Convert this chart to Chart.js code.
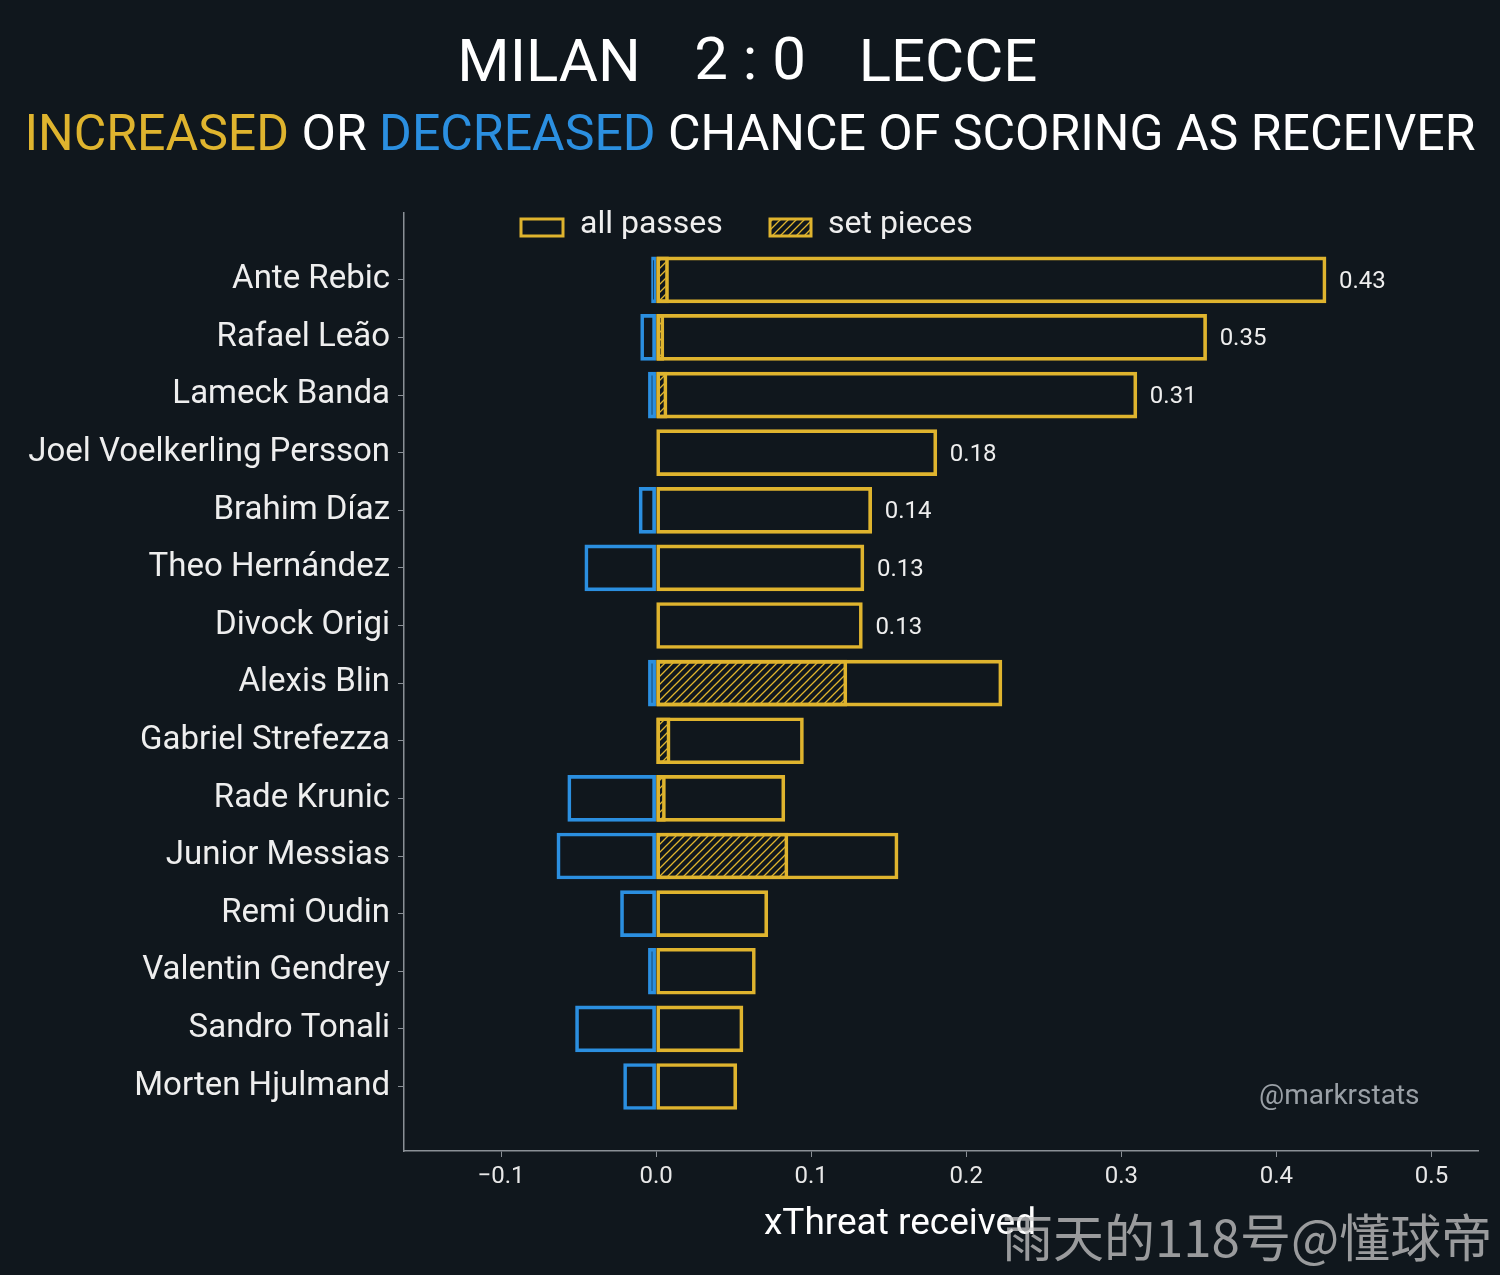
<!DOCTYPE html>
<html>
<head>
<meta charset="utf-8">
<script src="https://cdn.jsdelivr.net/npm/chart.js@4/dist/chart.umd.min.js"></script>
<style>
  html, body { margin: 0; padding: 0; background: #10171d; }
</style>
</head>
<body>
<canvas id="myChart" width="1500" height="1275"></canvas>
<script>
const players = [
  'Ante Rebic', 'Rafael Leão', 'Lameck Banda', 'Joel Voelkerling Persson', 'Brahim Díaz',
  'Theo Hernández', 'Divock Origi', 'Alexis Blin', 'Gabriel Strefezza', 'Rade Krunic',
  'Junior Messias', 'Remi Oudin', 'Valentin Gendrey', 'Sandro Tonali', 'Morten Hjulmand'
];
const allPasses = [0.432, 0.355, 0.310, 0.181, 0.139, 0.134, 0.133, 0.223, 0.095, 0.083, 0.156, 0.072, 0.064, 0.056, 0.052];
const setPieces = [0.008, 0.005, 0.007, 0, 0, 0, 0, 0.123, 0.009, 0.006, 0.085, 0, 0, 0, 0];
const decreased = [-0.003, -0.010, -0.005, 0, -0.011, -0.046, 0, -0.005, 0, -0.057, -0.064, -0.023, -0.005, -0.052, -0.021];
const valueLabels = ['0.43', '0.35', '0.31', '0.18', '0.14', '0.13', '0.13', '', '', '', '', '', '', '', ''];
const xTicks = [-0.1, 0, 0.1, 0.2, 0.3, 0.4, 0.5];

const gold = '#dfb42e';
const blue = '#2b8fe0';
const bg = '#10171d';
const font = 'Roboto, "Noto Sans", sans-serif';

function hatch() {
  const c = document.createElement('canvas');
  c.width = 8; c.height = 8;
  const g = c.getContext('2d');
  g.strokeStyle = gold; g.lineWidth = 1.3;
  g.beginPath();
  g.moveTo(0, 8); g.lineTo(8, 0);
  g.moveTo(-2, 2); g.lineTo(2, -2);
  g.moveTo(6, 10); g.lineTo(10, 6);
  g.stroke();
  return g.createPattern(c, 'repeat');
}
const hatchPattern = hatch();

const decor = {
  id: 'decor',
  beforeDraw(chart) {
    const ctx = chart.ctx;
    ctx.save();
    ctx.fillStyle = bg;
    ctx.fillRect(0, 0, chart.width, chart.height);
    ctx.restore();
  },
  afterDraw(chart) {
    const ctx = chart.ctx;
    ctx.save();
    ctx.textBaseline = 'middle';
    // title
    ctx.font = '60px ' + font;
    ctx.fillStyle = '#ffffff';
    ctx.textAlign = 'center';
    ctx.fillText('MILAN', 549, 66);
    ctx.fillText('2 : 0', 750, 64);
    ctx.fillText('LECCE', 948, 66);
    // x axis title
    ctx.font = '37px ' + font;
    ctx.fillText('xThreat received', 900, 1225);
    // subtitle
    ctx.font = '50px ' + font;
    ctx.textAlign = 'left';
    const parts = [['INCREASED', gold], [' OR ', '#ffffff'], ['DECREASED', blue], [' CHANCE OF SCORING AS RECEIVER', '#ffffff']];
    let total = parts.reduce((s, p) => s + ctx.measureText(p[0]).width, 0);
    let x = 750 - total / 2;
    parts.forEach(p => { ctx.fillStyle = p[1]; ctx.fillText(p[0], x, 137); x += ctx.measureText(p[0]).width; });
    // legend
    ctx.lineWidth = 3;
    ctx.strokeStyle = gold;
    ctx.strokeRect(521, 219, 42, 17);
    ctx.fillStyle = hatchPattern;
    ctx.fillRect(770, 219, 41, 17);
    ctx.strokeRect(770, 219, 41, 17);
    ctx.font = '32px ' + font;
    ctx.fillStyle = '#eeeeee';
    ctx.fillText('all passes', 580, 225);
    ctx.fillText('set pieces', 828, 225);
    // value labels
    const meta = chart.getDatasetMeta(2);
    ctx.font = '24px ' + font;
    meta.data.forEach((bar, i) => {
      if (valueLabels[i]) ctx.fillText(valueLabels[i], bar.x + 13, bar.y + 2);
    });
    // credits
    ctx.fillStyle = '#9aa0a6';
    ctx.font = '28px ' + font;
    ctx.fillText('@markrstats', 1259, 1097);
    ctx.fillStyle = 'rgba(200,200,200,0.75)';
    ctx.font = '51px "Noto Sans CJK SC", sans-serif';
    ctx.fillText('雨天的118号@懂球帝', 1002, 1238);
    ctx.restore();
  }
};

new Chart(document.getElementById('myChart'), {
  type: 'bar',
  data: {
    datasets: [
      { label: 'decreased', data: decreased.map((v, i) => ({ x: [v, 0], y: i })), backgroundColor: 'transparent', borderColor: blue, borderWidth: 3, borderSkipped: false },
      { label: 'set pieces', data: setPieces.map((v, i) => ({ x: [0, v], y: i })), backgroundColor: hatchPattern, borderColor: gold, borderWidth: 3, borderSkipped: false },
      { label: 'all passes', data: allPasses.map((v, i) => ({ x: [0, v], y: i })), backgroundColor: 'transparent', borderColor: gold, borderWidth: 3, borderSkipped: false }
    ]
  },
  options: {
    indexAxis: 'y',
    responsive: false,
    animation: false,
    devicePixelRatio: 1,
    layout: { padding: { top: 213, right: 22, left: 0, bottom: 20 } },
    datasets: { bar: { grouped: false, barThickness: 46 } },
    plugins: { legend: { display: false }, tooltip: { enabled: false } },
    scales: {
      x: {
        type: 'linear',
        min: -0.1626, max: 0.53,
        afterBuildTicks: s => { s.ticks = xTicks.map(v => ({ value: v })); },
        afterFit: s => { s.height = 104; },
        grid: { drawOnChartArea: false, color: '#8a9096', tickLength: 6, tickColor: '#8a9096' },
        border: { color: '#8a9096', width: 1.5 },
        ticks: {
          color: '#e8e8e8', font: { size: 24, family: font }, padding: 6,
          callback: v => (v < 0 ? '\u2212' : '') + Math.abs(v).toFixed(1)
        }
      },
      y: {
        type: 'linear',
        reverse: true,
        offset: false,
        min: -1.16, max: 15.12,
        afterBuildTicks: s => { s.ticks = players.map((_, i) => ({ value: i })); },
        afterFit: s => { s.width = 404; },
        grid: { drawOnChartArea: false, offset: false, color: '#8a9096', tickLength: 6, tickColor: '#8a9096' },
        border: { color: '#8a9096', width: 1.5 },
        ticks: { color: '#eeeeee', font: { size: 33, family: font }, padding: 8, callback: v => players[v] }
      }
    }
  },
  plugins: [decor]
});
</script>
</body>
</html>
